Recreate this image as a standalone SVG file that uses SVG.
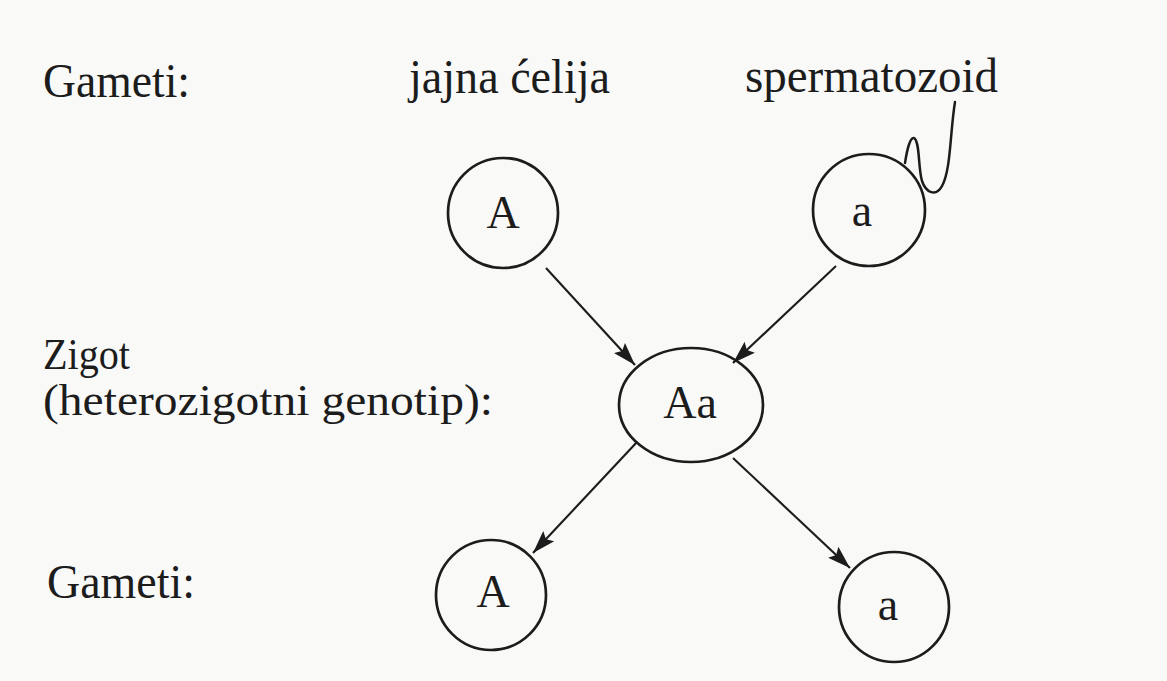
<svg xmlns="http://www.w3.org/2000/svg" width="1167" height="681" viewBox="0 0 1167 681">
  <style>
    .lbl { font-family: "Liberation Serif", "Times New Roman", serif; font-size: 48px; fill: #1c1c1c; }
    .lbl2 { font-family: "Liberation Serif", "Times New Roman", serif; font-size: 45px; fill: #1c1c1c; }
    .node { font-family: "Liberation Serif", "Times New Roman", serif; font-size: 46px; fill: #1c1c1c; text-anchor: middle; }
    .ring { fill: none; stroke: #1c1c1c; stroke-width: 2.7; }
    .edge { fill: none; stroke: #1c1c1c; stroke-width: 2.1; }
    .tail { fill: none; stroke: #1c1c1c; stroke-width: 2.5; stroke-linecap: round; stroke-linejoin: round; }
  </style>
  <defs>
    <marker id="arrow" markerUnits="userSpaceOnUse" markerWidth="24" markerHeight="18" refX="23" refY="9" orient="auto">
      <path d="M0,1.5 L23,9 L0,16.5 L4,9 z" fill="#1c1c1c"/>
    </marker>
  </defs>
  <rect x="0" y="0" width="1167" height="681" fill="#f9f9f8"/>

  <g id="labels">
    <text class="lbl" x="43" y="97" textLength="147" lengthAdjust="spacingAndGlyphs">Gameti:</text>
    <text class="lbl" x="409" y="93" textLength="201" lengthAdjust="spacingAndGlyphs">jajna ćelija</text>
    <text class="lbl" x="745" y="92" textLength="253" lengthAdjust="spacingAndGlyphs">spermatozoid</text>
    <text class="lbl2" x="43" y="369" textLength="87" lengthAdjust="spacingAndGlyphs">Zigot</text>
    <text class="lbl2" x="43" y="415" textLength="450" lengthAdjust="spacingAndGlyphs">(heterozigotni genotip):</text>
    <text class="lbl" x="47" y="598" textLength="148" lengthAdjust="spacingAndGlyphs">Gameti:</text>
  </g>

  <g id="connectors">
    <line class="edge" x1="546" y1="268" x2="635" y2="365" marker-end="url(#arrow)"/>
    <line class="edge" x1="836" y1="266" x2="733" y2="363" marker-end="url(#arrow)"/>
    <line class="edge" x1="637" y1="442" x2="533" y2="553" marker-end="url(#arrow)"/>
    <line class="edge" x1="733" y1="458" x2="850" y2="568" marker-end="url(#arrow)"/>
  </g>

  <g id="node-egg-A">
    <ellipse class="ring" cx="503" cy="213" rx="55" ry="55"/>
    <text class="node" x="503" y="228">A</text>
  </g>

  <g id="node-sperm-a">
    <ellipse class="ring" cx="869" cy="210" rx="56" ry="56"/>
    <text class="node" x="862" y="226">a</text>
    <path class="tail" d="M905,163 C907,150 910,137 914,138 C920,141 918,168 922,181 C926,193 936,197 942,186 C951,170 950,132 955,102"/>
  </g>

  <g id="node-zygote-Aa">
    <ellipse class="ring" cx="691" cy="405" rx="72" ry="57"/>
    <text class="node" x="690" y="418">Aa</text>
  </g>

  <g id="node-gamete-A">
    <ellipse class="ring" cx="491" cy="595" rx="55" ry="55"/>
    <text class="node" x="493" y="607">A</text>
  </g>

  <g id="node-gamete-a">
    <ellipse class="ring" cx="894" cy="607" rx="55" ry="55"/>
    <text class="node" x="888" y="620">a</text>
  </g>
</svg>
